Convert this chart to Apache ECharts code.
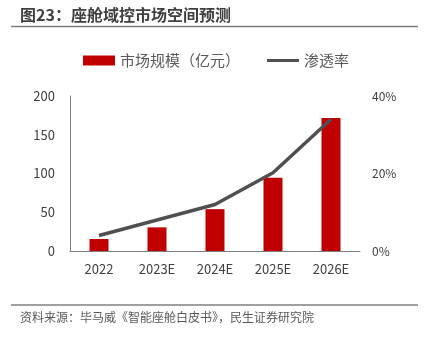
<!DOCTYPE html>
<html><head><meta charset="utf-8">
<script src="https://cdn.jsdelivr.net/npm/echarts@6/dist/echarts.min.js"></script>
<style>html,body{margin:0;padding:0;background:#fff;}#c{width:426px;height:338px;}</style>
</head><body><div id="c"></div>
<script>
const categories = ['2022','2023E','2024E','2025E','2026E'];
const marketSize = [15.5, 30.5, 54, 94.5, 171.5];
const penetration = [4, 8, 12, 20.2, 34];
const leftTicks = [0, 50, 100, 150, 200];
const rightTicks = [0, 20, 40];
const font = '"Noto Sans CJK SC", sans-serif';
const chart = echarts.init(document.getElementById('c'));
chart.setOption({
  animation: false,
  textStyle: {fontFamily: font},
  graphic: [
    {type:'text', left:20, top:7, style:{text:'图23：座舱域控市场空间预测', font:'bold 16px ' + font, fill:'#404040'}},
    {type:'line', shape:{x1:11, y1:26.5, x2:418, y2:26.5}, style:{stroke:'#7f7f7f', lineWidth:1.5}},
    {type:'line', shape:{x1:11, y1:305, x2:418, y2:305}, style:{stroke:'#7f7f7f', lineWidth:1.5}},
    {type:'text', left:20, top:311, style:{text:'资料来源：毕马威《智能座舱白皮书》，民生证券研究院', font:'12px ' + font, fill:'#595959'}}
  ],
  legend: {
    top: 53, left: 83, padding: 0, itemGap: 27, itemWidth: 32, itemHeight: 10,
    textStyle: {fontSize: 15, color: '#595959', fontFamily: font},
    data: [
      {name:'市场规模（亿元）', icon:'rect'},
      {name:'渗透率', icon:'path://M0,4 L32,4 L32,7 L0,7 Z'}
    ]
  },
  grid: {left: 70, right: 66, top: 96, bottom: 87, containLabel: false},
  xAxis: {
    type: 'category', data: categories,
    axisLine: {lineStyle: {color: '#7f7f7f', width: 1}},
    axisTick: {show: false},
    axisLabel: {fontSize: 13, color: '#404040', margin: 12, fontFamily: font}
  },
  yAxis: [
    {type:'value', min:0, max:200, interval:50,
     axisLine:{show:true, lineStyle:{color:'#7f7f7f'}}, axisTick:{show:false}, splitLine:{show:false},
     axisLabel:{fontSize:13, color:'#404040', margin:15, fontFamily: font}},
    {type:'value', min:0, max:40, interval:20,
     axisLine:{show:false}, axisTick:{show:false}, splitLine:{show:false},
     axisLabel:{fontSize:12, color:'#404040', margin:12, formatter:'{value}%', fontFamily: font}}
  ],
  series: [
    {name:'市场规模（亿元）', type:'bar', data: marketSize, barWidth: 19, itemStyle:{color:'#C00000'}},
    {name:'渗透率', type:'line', yAxisIndex:1, data: penetration, symbol:'none',
     lineStyle:{color:'#505050', width:3.5}, itemStyle:{color:'#505050'}}
  ]
});
</script></body></html>
